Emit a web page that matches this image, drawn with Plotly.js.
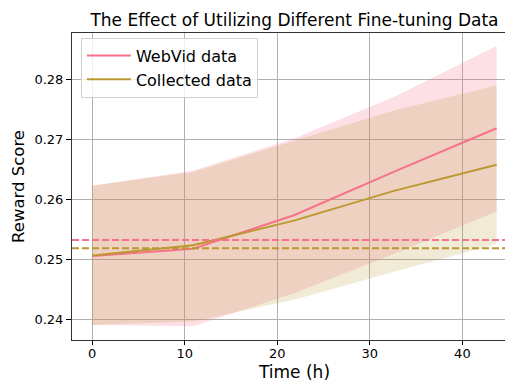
<!DOCTYPE html>
<html>
<head>
<meta charset="utf-8">
<script src="https://cdn.plot.ly/plotly-3.0.1.min.js"></script>
<style>html,body{margin:0;padding:0;overflow:hidden;background:#fff}#chart{width:520px;height:382px}</style>
</head>
<body>
<div id="chart"></div>
<script>
const hours = [0, 10.9, 21.8, 32.7, 43.7];
const webvidMean = [0.2505, 0.2517, 0.2573, 0.2646, 0.2718];
const webvidUpper = [0.2622, 0.2647, 0.2701, 0.2771, 0.2855];
const webvidLower = [0.2390, 0.2388, 0.2443, 0.2509, 0.2579];
const collectedMean = [0.2506, 0.2523, 0.2564, 0.2614, 0.2657];
const collectedUpper = [0.2622, 0.2645, 0.2697, 0.2748, 0.2789];
const collectedLower = [0.2390, 0.2396, 0.2432, 0.2479, 0.2525];
const baselines = [0.25317, 0.25178];
const seriesNames = ['WebVid data', 'Collected data'];
const colors = ['#f77189', '#bb9832'];
const fills = ['rgba(247,113,137,0.22)', 'rgba(187,152,50,0.2)'];
const xTicks = [0, 10, 20, 30, 40];
const yTicks = [0.24, 0.25, 0.26, 0.27, 0.28];

const font = 'DejaVu Sans, sans-serif';
function band(upper, lower, fill) {
  return [
    {x: hours, y: lower, mode: 'lines', line: {width: 0}, showlegend: false, hoverinfo: 'skip'},
    {x: hours, y: upper, mode: 'lines', line: {width: 0}, fill: 'tonexty', fillcolor: fill, showlegend: false, hoverinfo: 'skip'}
  ];
}
const data = [
  ...band(webvidUpper, webvidLower, fills[0]),
  ...band(collectedUpper, collectedLower, fills[1]),
  {x: hours, y: webvidMean, mode: 'lines', name: seriesNames[0], line: {color: colors[0], width: 2}},
  {x: hours, y: collectedMean, mode: 'lines', name: seriesNames[1], line: {color: colors[1], width: 2}}
];
const shapes = baselines.map((b, i) => ({
  type: 'line', xref: 'paper', x0: 0, x1: 1, yref: 'y', y0: b, y1: b,
  line: {color: colors[i], width: 2, dash: '7px,3px'}
}));
const layout = {
  width: 520, height: 382,
  margin: {l: 72, r: 3, t: 33, b: 42},
  paper_bgcolor: '#fff', plot_bgcolor: '#fff',
  font: {family: font, color: '#000', size: 13},
  title: {text: 'The Effect of Utilizing Different Fine-tuning Data', font: {family: font, size: 17, color: '#000'},
          x: 0.5, xref: 'paper', xanchor: 'center', y: 1, yref: 'paper', yanchor: 'bottom', pad: {b: 7}},
  xaxis: {range: [-2.18, 45.9], tickvals: xTicks, ticks: 'outside', ticklen: 4, tickcolor: '#000',
          ticklabelstandoff: -3,
          showgrid: true, gridcolor: '#b0b0b0', gridwidth: 1, zeroline: false,
          showline: true, linecolor: '#333', linewidth: 1, mirror: true,
          tickfont: {size: 13}, title: {text: 'Time (h)', font: {size: 17}, standoff: 10}},
  yaxis: {range: [0.2365, 0.28767], tickvals: yTicks, tickformat: '.2f', ticks: 'outside', ticklen: 5, tickcolor: '#000',
          showgrid: true, gridcolor: '#b0b0b0', gridwidth: 1, zeroline: false,
          showline: true, linecolor: '#333', linewidth: 1, mirror: true,
          tickfont: {size: 13}, title: {text: 'Reward Score', font: {size: 16.5}, standoff: 5}},
  legend: {x: 0.02, y: 0.985, xanchor: 'left', yanchor: 'top', bgcolor: 'rgba(255,255,255,0.8)',
           bordercolor: '#d0d0d0', borderwidth: 1, font: {size: 16, family: font}, tracegroupgap: 0,
           traceorder: 'normal', itemwidth: 44},
  shapes: shapes,
  showlegend: true
};
Plotly.newPlot('chart', data, layout, {displayModeBar: false, staticPlot: true});
</script>
</body>
</html>
